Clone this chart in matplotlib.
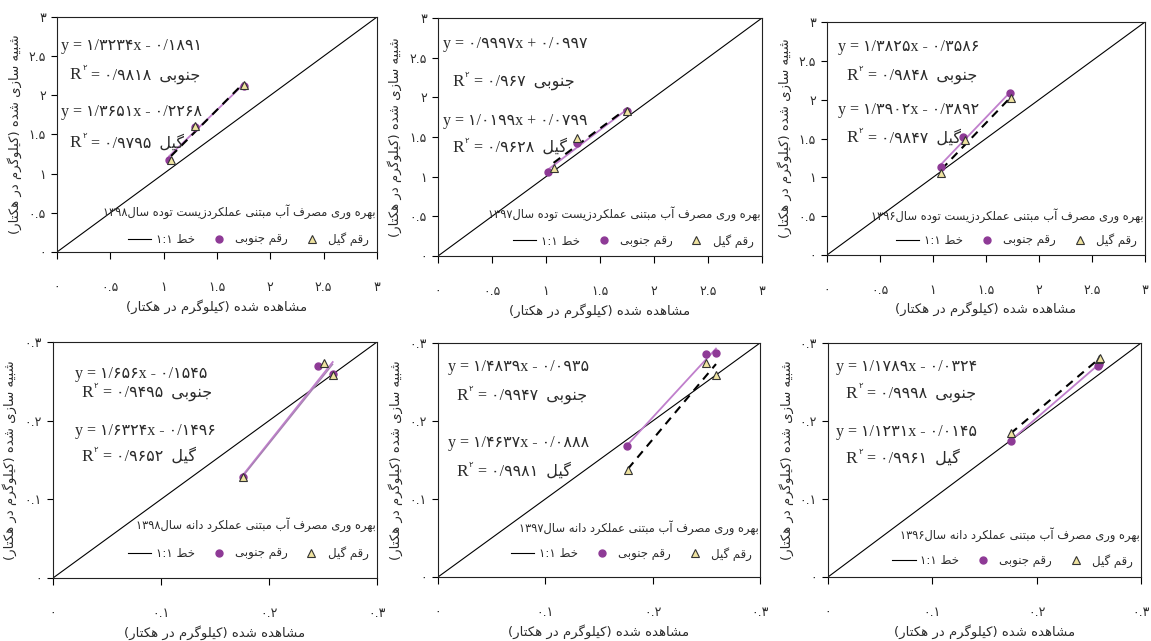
import re

import numpy as np
import matplotlib
matplotlib.use("Agg")
import matplotlib.pyplot as plt


OUTPUT_PATH = "out.png"

# ---- data ----
YEARS = ["۱۳۹۸", "۱۳۹۷", "۱۳۹۶"]
TOP_TICKS = [0, 0.5, 1, 1.5, 2, 2.5, 3]
TOP_TICK_LABELS = ["۰", "۰.۵", "۱", "۱.۵", "۲", "۲.۵", "۳"]
BOTTOM_TICKS = [0, 0.1, 0.2, 0.3]
BOTTOM_TICK_LABELS = ["۰", "۰.۱", "۰.۲", "۰.۳"]

# biomass (top row), grain (bottom row); each row ordered 1398, 1397, 1396
BIOMASS_JONOUBI_X = [[1.05, 1.29, 1.75], [1.02, 1.29, 1.75], [1.08, 1.28, 1.73]]
BIOMASS_JONOUBI_Y = [[1.18, 1.60, 2.12], [1.06, 1.42, 1.83], [1.13, 1.52, 2.08]]
BIOMASS_GIL_X = [[1.07, 1.29, 1.75], [1.07, 1.29, 1.75], [1.08, 1.30, 1.74]]
BIOMASS_GIL_Y = [[1.17, 1.61, 2.13], [1.11, 1.49, 1.83], [1.06, 1.48, 2.02]]
GRAIN_JONOUBI_X = [[0.176, 0.245, 0.259], [0.176, 0.250, 0.259], [0.175, 0.2585, 0.2595]]
GRAIN_JONOUBI_Y = [[0.128, 0.269, 0.259], [0.168, 0.286, 0.287], [0.175, 0.271, 0.273]]
GRAIN_GIL_X = [[0.176, 0.251, 0.259], [0.177, 0.250, 0.259], [0.175, 0.2595, 0.2605]]
GRAIN_GIL_Y = [[0.128, 0.273, 0.258], [0.137, 0.274, 0.259], [0.184, 0.279, 0.281]]

EQ_JONOUBI = ["y = ۱/۳۲۳۴x - ۰/۱۸۹۱", "y = ۰/۹۹۹۷x + ۰/۰۹۹۷", "y = ۱/۳۸۲۵x - ۰/۳۵۸۶",
              "y = ۱/۶۵۶x - ۰/۱۵۴۵", "y = ۱/۴۸۳۹x - ۰/۰۹۳۵", "y = ۱/۱۷۸۹x - ۰/۰۳۲۴"]
R2_JONOUBI = ["۰/۹۸۱۸", "۰/۹۶۷", "۰/۹۸۴۸", "۰/۹۴۹۵", "۰/۹۹۴۷", "۰/۹۹۹۸"]
EQ_GIL = ["y = ۱/۳۶۵۱x - ۰/۲۲۶۸", "y = ۱/۰۱۹۹x + ۰/۰۷۹۹", "y = ۱/۳۹۰۲x - ۰/۳۸۹۲",
          "y = ۱/۶۳۲۴x - ۰/۱۴۹۶", "y = ۱/۴۶۳۷x - ۰/۰۸۸۸", "y = ۱/۱۲۳۱x - ۰/۰۱۴۵"]
R2_GIL = ["۰/۹۷۹۵", "۰/۹۶۲۸", "۰/۹۸۴۷", "۰/۹۶۵۲", "۰/۹۹۸۱", "۰/۹۹۶۱"]

NAME_JONOUBI = "جنوبی"
NAME_GIL = "گیل"
LEGEND_JONOUBI = "رقم جنوبی"
LEGEND_GIL = "رقم گیل"
LEGEND_LINE = "خط ۱:۱"
TITLE_BIOMASS = "بهره وری مصرف آب مبتنی عملکردزیست توده سال"
TITLE_GRAIN = "بهره وری مصرف آب مبتنی عملکرد دانه سال"
XLABEL = "مشاهده شده (کیلوگرم در هکتار)"
YLABEL = "شبیه سازی شده (کیلوگرم در هکتار)"

# ---- layout (pixel boxes of the six plot areas: left, top, right, bottom) ----
FIG_W, FIG_H = 1151, 641
PANEL_BOXES = [(57, 17, 377, 252), (438, 18, 762, 256), (827, 22, 1145, 255),
               (53, 342, 377, 578), (438, 343, 760, 577), (828, 343, 1141, 577)]
# x of equation, x of R2, baselines of eq1, r2-1, eq2, r2-2 (axes fraction)
TEXT_POS = [(0.012, 0.04, [0.86, 0.735, 0.58, 0.445]),
            (0.015, 0.045, [0.873, 0.714, 0.55, 0.437]),
            (0.036, 0.062, [0.877, 0.753, 0.606, 0.484]),
            (0.067, 0.088, [0.847, 0.767, 0.604, 0.497]),
            (0.03, 0.057, [0.882, 0.757, 0.554, 0.433]),
            (0.026, 0.057, [0.882, 0.767, 0.604, 0.487])]
TITLE_Y = [0.17, 0.18, 0.17, 0.225, 0.21, 0.18]
LEGEND_Y = [0.055, 0.064, 0.064, 0.105, 0.10, 0.07]
GIL_DASHED = [True, True, True, False, True, True]

PURPLE = "#8e3a96"
TREND_PURPLE = "#c07fcc"
TRI_FILL = "#efe3a0"
TEXT_COLOR = "#2b2b2b"
EQ_FONT = ["Liberation Serif", "DejaVu Sans"]
FA_FONT = ["DejaVu Sans"]

# ---- minimal Persian shaping (matplotlib has no bidi / joining) ----
FORMS = {
    "ا": ("\uFE8D", "\uFE8E", None, None), "آ": ("\uFE81", "\uFE82", None, None),
    "ب": ("\uFE8F", "\uFE90", "\uFE91", "\uFE92"), "ت": ("\uFE95", "\uFE96", "\uFE97", "\uFE98"),
    "ج": ("\uFE9D", "\uFE9E", "\uFE9F", "\uFEA0"), "خ": ("\uFEA5", "\uFEA6", "\uFEA7", "\uFEA8"),
    "د": ("\uFEA9", "\uFEAA", None, None), "ر": ("\uFEAD", "\uFEAE", None, None),
    "ز": ("\uFEAF", "\uFEB0", None, None), "س": ("\uFEB1", "\uFEB2", "\uFEB3", "\uFEB4"),
    "ش": ("\uFEB5", "\uFEB6", "\uFEB7", "\uFEB8"), "ص": ("\uFEB9", "\uFEBA", "\uFEBB", "\uFEBC"),
    "ط": ("\uFEC1", "\uFEC2", "\uFEC3", "\uFEC4"), "ع": ("\uFEC9", "\uFECA", "\uFECB", "\uFECC"),
    "ف": ("\uFED1", "\uFED2", "\uFED3", "\uFED4"), "ق": ("\uFED5", "\uFED6", "\uFED7", "\uFED8"),
    "ل": ("\uFEDD", "\uFEDE", "\uFEDF", "\uFEE0"), "م": ("\uFEE1", "\uFEE2", "\uFEE3", "\uFEE4"),
    "ن": ("\uFEE5", "\uFEE6", "\uFEE7", "\uFEE8"), "ه": ("\uFEE9", "\uFEEA", "\uFEEB", "\uFEEC"),
    "و": ("\uFEED", "\uFEEE", None, None), "ک": ("\uFB8E", "\uFB8F", "\uFB90", "\uFB91"),
    "ك": ("\uFED9", "\uFEDA", "\uFEDB", "\uFEDC"), "گ": ("\uFB92", "\uFB93", "\uFB94", "\uFB95"),
    "ی": ("\uFBFC", "\uFBFD", "\uFBFE", "\uFBFF"), "ي": ("\uFEF1", "\uFEF2", "\uFEF3", "\uFEF4"),
}


def fa(text):
    out = []
    for i, ch in enumerate(text):
        if ch not in FORMS:
            out.append(ch)
            continue
        prev = text[i - 1] if i > 0 else ""
        nxt = text[i + 1] if i + 1 < len(text) else ""
        join_prev = prev in FORMS and FORMS[prev][2] is not None
        join_next = FORMS[ch][2] is not None and nxt in FORMS
        iso, fin, ini, med = FORMS[ch]
        if join_prev and join_next:
            out.append(med)
        elif join_prev:
            out.append(fin)
        elif join_next:
            out.append(ini)
        else:
            out.append(iso)
    vis = "".join(out)[::-1]
    vis = re.sub(r"[0-9۰-۹.:/]+", lambda m: m.group(0)[::-1], vis)
    return vis.translate(str.maketrans("()", ")("))


def stats_block(ax, x_eq, x_r2, y_eq, y_r2, eq, r2, name):
    ax.text(x_eq, y_eq, eq, transform=ax.transAxes, fontsize=11.5, family=EQ_FONT,
            color=TEXT_COLOR, va="baseline")
    r = ax.text(x_r2, y_r2, "R", transform=ax.transAxes, fontsize=12.5, family=EQ_FONT,
                color=TEXT_COLOR, va="baseline")
    ax.annotate("۲", xy=(1, y_r2), xycoords=(r, "axes fraction"), xytext=(0.5, 6.5),
                textcoords="offset points", fontsize=6, family=FA_FONT, color=TEXT_COLOR,
                va="baseline")
    ax.annotate(" = " + r2 + "  " + fa(name), xy=(1, y_r2), xycoords=(r, "axes fraction"),
                xytext=(4, 0), textcoords="offset points", fontsize=11.5, family=EQ_FONT,
                color=TEXT_COLOR, va="baseline")


def draw_panel(fig, idx, jx, jy, gx, gy, ticks, tick_labels, title):
    left, top, right, bottom = PANEL_BOXES[idx]
    ax = fig.add_axes([left / FIG_W, 1 - bottom / FIG_H, (right - left) / FIG_W,
                       (bottom - top) / FIG_H])
    lim = ticks[-1]

    ax.plot([0, lim], [0, lim], color="black", linewidth=0.8, label=fa(LEGEND_LINE))
    ax.plot(jx, jy, linestyle="none", marker="o", markersize=5, color=PURPLE,
            markeredgecolor=PURPLE, label=fa(LEGEND_JONOUBI), zorder=3)
    ax.plot(gx, gy, linestyle="none", marker="^", markersize=6, markerfacecolor=TRI_FILL,
            markeredgecolor="#333333", markeredgewidth=0.8, label=fa(LEGEND_GIL), zorder=4)

    # linear trendlines over each series' range
    jx_arr, gx_arr = np.array(jx), np.array(gx)
    jc = np.polyfit(jx_arr, jy, 1)
    gc = np.polyfit(gx_arr, gy, 1)
    jline = np.array([jx_arr.min(), jx_arr.max()])
    gline = np.array([gx_arr.min(), gx_arr.max()])
    ax.plot(jline, np.polyval(jc, jline), color=TREND_PURPLE, linewidth=1.3, zorder=2)
    if GIL_DASHED[idx]:
        ax.plot(gline, np.polyval(gc, gline), color="black", linewidth=1.5,
                dashes=(4, 3), zorder=2)
    else:
        ax.plot(gline, np.polyval(gc, gline), color="#a57fb0", linewidth=0.9, zorder=2)

    ax.set_xlim(0, lim)
    ax.set_ylim(0, lim)
    ax.set_xticks(ticks)
    ax.set_yticks(ticks)
    ax.set_xticklabels(tick_labels, family=FA_FONT)
    ax.set_yticklabels(tick_labels, family=FA_FONT)
    ax.tick_params(axis="x", direction="out", length=5, width=0.8, pad=16, labelsize=9,
                   labelcolor=TEXT_COLOR)
    ax.tick_params(axis="y", direction="out", length=4, width=0.8, pad=4, labelsize=9,
                   labelcolor=TEXT_COLOR)
    for spine in ax.spines.values():
        spine.set_linewidth(0.8)
        spine.set_color("#222222")

    ax.set_xlabel(fa(XLABEL), family=FA_FONT, fontsize=9.5, color=TEXT_COLOR)
    ax.set_ylabel(fa(YLABEL), family=FA_FONT, fontsize=9.5, color=TEXT_COLOR)
    ax.xaxis.set_label_coords(0.5, -0.2)
    ax.yaxis.set_label_coords(-0.11, 0.5)

    x_eq, x_r2, ys = TEXT_POS[idx]
    stats_block(ax, x_eq, x_r2, ys[0], ys[1], EQ_JONOUBI[idx], R2_JONOUBI[idx], NAME_JONOUBI)
    stats_block(ax, x_eq, x_r2, ys[2], ys[3], EQ_GIL[idx], R2_GIL[idx], NAME_GIL)

    ax.text(0.995, TITLE_Y[idx], fa(title), transform=ax.transAxes, ha="right",
            va="center", fontsize=8.3, family=FA_FONT, color=TEXT_COLOR)
    ax.legend(loc="center right", bbox_to_anchor=(0.975, LEGEND_Y[idx]), ncol=3,
              frameon=False, prop={"family": FA_FONT, "size": 8.5},
              handlelength=2.0, handletextpad=0.4, columnspacing=1.0,
              borderaxespad=0, borderpad=0, labelcolor=TEXT_COLOR)


def main() -> None:
    fig = plt.figure(figsize=(FIG_W / 100, FIG_H / 100), dpi=100)
    fig.patch.set_facecolor("white")

    for i in range(3):
        draw_panel(fig, i, BIOMASS_JONOUBI_X[i], BIOMASS_JONOUBI_Y[i], BIOMASS_GIL_X[i],
                   BIOMASS_GIL_Y[i], TOP_TICKS, TOP_TICK_LABELS, TITLE_BIOMASS + YEARS[i])
        draw_panel(fig, i + 3, GRAIN_JONOUBI_X[i], GRAIN_JONOUBI_Y[i], GRAIN_GIL_X[i],
                   GRAIN_GIL_Y[i], BOTTOM_TICKS, BOTTOM_TICK_LABELS, TITLE_GRAIN + YEARS[i])

    fig.savefig(OUTPUT_PATH, dpi=100)
    plt.close(fig)


if __name__ == "__main__":
    main()
